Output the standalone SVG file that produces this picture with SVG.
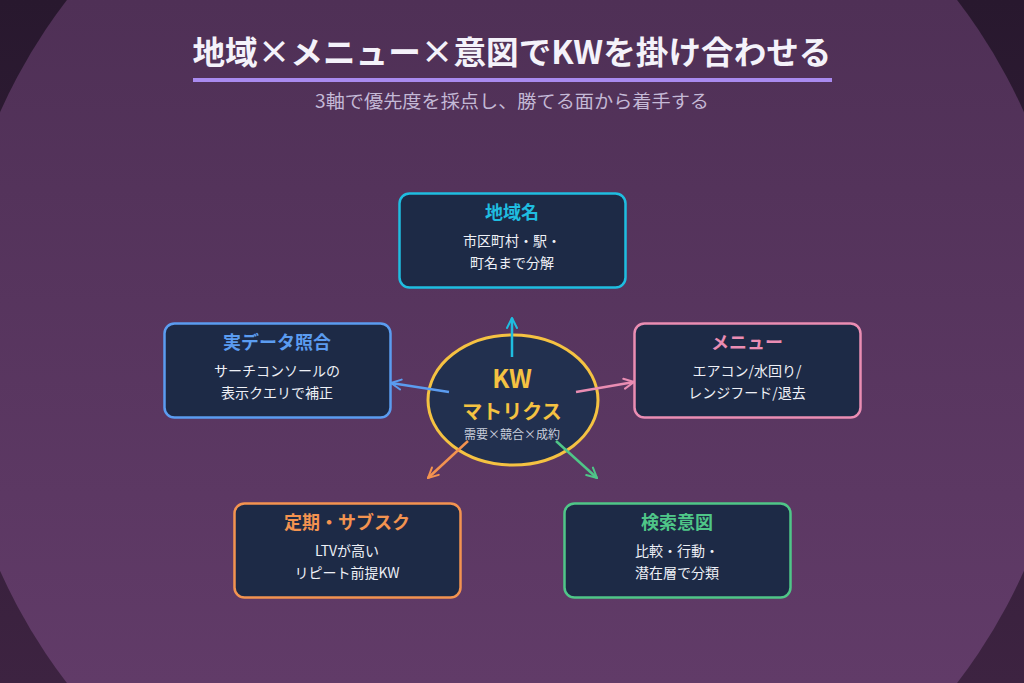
<svg xmlns="http://www.w3.org/2000/svg" width="1024" height="683" viewBox="0 0 1024 683">
<defs>
<linearGradient id="bgOut" x1="0" y1="0" x2="0" y2="1">
<stop offset="0" stop-color="#28182e"/>
<stop offset="1" stop-color="#3d2341"/>
</linearGradient>
<linearGradient id="bgIn" x1="0" y1="0" x2="0" y2="683" gradientUnits="userSpaceOnUse">
<stop offset="0" stop-color="#4f3056"/>
<stop offset="1" stop-color="#613b68"/>
</linearGradient>
<marker id="ahC" viewBox="0 0 10 10" refX="9" refY="5" markerWidth="5" markerHeight="5" orient="auto" markerUnits="strokeWidth"><path d="M1,1 L9,5 L1,9" fill="none" stroke="#1fbde0" stroke-width="1.6" stroke-linecap="round"/></marker>
<marker id="ahB" viewBox="0 0 10 10" refX="9" refY="5" markerWidth="5" markerHeight="5" orient="auto" markerUnits="strokeWidth"><path d="M1,1 L9,5 L1,9" fill="none" stroke="#5b9cf0" stroke-width="1.6" stroke-linecap="round"/></marker>
<marker id="ahP" viewBox="0 0 10 10" refX="9" refY="5" markerWidth="5" markerHeight="5" orient="auto" markerUnits="strokeWidth"><path d="M1,1 L9,5 L1,9" fill="none" stroke="#ea8db3" stroke-width="1.6" stroke-linecap="round"/></marker>
<marker id="ahO" viewBox="0 0 10 10" refX="9" refY="5" markerWidth="5" markerHeight="5" orient="auto" markerUnits="strokeWidth"><path d="M1,1 L9,5 L1,9" fill="none" stroke="#f39350" stroke-width="1.6" stroke-linecap="round"/></marker>
<marker id="ahG" viewBox="0 0 10 10" refX="9" refY="5" markerWidth="5" markerHeight="5" orient="auto" markerUnits="strokeWidth"><path d="M1,1 L9,5 L1,9" fill="none" stroke="#4fc688" stroke-width="1.6" stroke-linecap="round"/></marker>
</defs>
<style>
text{font-family:"Noto Sans CJK JP","Noto Sans",sans-serif;text-anchor:middle}
.box{fill:#1d2a46;stroke-width:2.5}
.ttl{font-size:18px;font-weight:700}
.body{font-size:14px;fill:#eef0f6}
.conn line{stroke-width:2.5;fill:none}
</style>
<rect width="1024" height="683" fill="url(#bgOut)"/>
<circle cx="512" cy="341.5" r="561" fill="url(#bgIn)"/>

<g id="title">
<text x="512" y="64" font-size="32" font-weight="700" fill="#f4f2fa" textLength="639" lengthAdjust="spacingAndGlyphs">地域×メニュー×意図でKWを掛け合わせる</text>
<rect x="193" y="78" width="639" height="4" fill="#a98af0"/>
<text x="512" y="108" font-size="18" fill="#c4b9d6" textLength="394" lengthAdjust="spacingAndGlyphs">3軸で優先度を採点し、勝てる面から着手する</text>
</g>

<g id="center">
<ellipse cx="513" cy="400" rx="85" ry="65" fill="#22304f" stroke="#f5c242" stroke-width="3"/>
<text x="512" y="388" font-size="25" font-weight="700" fill="#f5c242">KW</text>
<text x="512" y="419" font-size="20" font-weight="700" fill="#f5c242">マトリクス</text>
<text x="512" y="439" font-size="12" fill="#c9cedb">需要×競合×成約</text>
</g>

<g id="connectors" class="conn">
<line x1="512" y1="357" x2="512" y2="318" stroke="#1fbde0" marker-end="url(#ahC)"/>
<line x1="449" y1="392" x2="391" y2="383" stroke="#5b9cf0" marker-end="url(#ahB)"/>
<line x1="576" y1="392" x2="634" y2="382" stroke="#ea8db3" marker-end="url(#ahP)"/>
<line x1="468" y1="441" x2="428" y2="478" stroke="#f39350" marker-end="url(#ahO)"/>
<line x1="556" y1="441" x2="597" y2="478" stroke="#4fc688" marker-end="url(#ahG)"/>
</g>

<g id="node-region">
<rect class="box" x="399.5" y="193.5" width="226" height="94" rx="10" stroke="#1fbde0"/>
<text class="ttl" x="512" y="219" fill="#1fbde0">地域名</text>
<text class="body" x="512" y="246">市区町村・駅・</text>
<text class="body" x="512" y="268">町名まで分解</text>
</g>

<g id="node-data">
<rect class="box" x="164.5" y="323.5" width="226" height="94" rx="10" stroke="#5b9cf0"/>
<text class="ttl" x="277" y="349" fill="#5b9cf0">実データ照合</text>
<text class="body" x="277" y="376">サーチコンソールの</text>
<text class="body" x="277" y="398">表示クエリで補正</text>
</g>

<g id="node-menu">
<rect class="box" x="634.5" y="323.5" width="226" height="94" rx="10" stroke="#ea8db3"/>
<text class="ttl" x="747" y="349" fill="#ea8db3">メニュー</text>
<text class="body" x="747" y="376">エアコン/水回り/</text>
<text class="body" x="747" y="398">レンジフード/退去</text>
</g>

<g id="node-sub">
<rect class="box" x="234.5" y="503.5" width="226" height="94" rx="10" stroke="#f39350"/>
<text class="ttl" x="347" y="529" fill="#f39350">定期・サブスク</text>
<text class="body" x="347" y="556">LTVが高い</text>
<text class="body" x="347" y="578">リピート前提KW</text>
</g>

<g id="node-intent">
<rect class="box" x="564.5" y="503.5" width="226" height="94" rx="10" stroke="#4fc688"/>
<text class="ttl" x="677" y="529" fill="#4fc688">検索意図</text>
<text class="body" x="677" y="556">比較・行動・</text>
<text class="body" x="677" y="578">潜在層で分類</text>
</g>
</svg>
